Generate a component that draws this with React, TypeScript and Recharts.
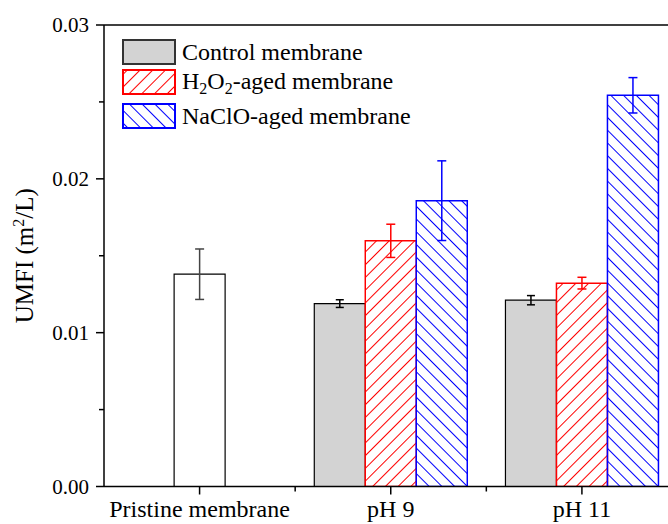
import { BarChart, Bar, XAxis, YAxis, ErrorBar, ReferenceLine, Legend, Label } from 'recharts'

const categories = ['Pristine membrane', 'pH 9', 'pH 11']
const pristine = [0.0138, null, null]
const pristineErr = [0.00164, null, null]
const control = [null, 0.01189, 0.01211]
const controlErr = [null, 0.00025, 0.0003]
const h2o2 = [null, 0.01597, 0.01322]
const h2o2Err = [null, 0.00108, 0.00038]
const naclo = [null, 0.01858, 0.02543]
const nacloErr = [null, 0.00259, 0.00115]

const yTicks = [0, 0.005, 0.01, 0.015, 0.02, 0.025, 0.03]
const yMajor = [0, 0.01, 0.02, 0.03]
const legendLabels = ['Control membrane', 'H2O2-aged membrane', 'NaClO-aged membrane']

const FONT = "'Liberation Serif', 'Times New Roman', serif"

const data = categories.map((name, i) => ({
  name,
  pristine: pristine[i],
  pristineErr: pristineErr[i],
  control: control[i],
  controlErr: controlErr[i],
  h2o2: h2o2[i],
  h2o2Err: h2o2Err[i],
  naclo: naclo[i],
  nacloErr: nacloErr[i],
}))

function YTick({ x, y, payload }: any) {
  const major = yMajor.some((v) => Math.abs(v - payload.value) < 1e-9)
  return (
    <g>
      <line x1={x - (major ? 8 : 5)} x2={x} y1={y} y2={y} stroke="#000" strokeWidth={1.5} />
      {major && (
        <text x={x - 15} y={y} dy="0.35em" textAnchor="end" fontSize={21} fill="#000" fontFamily={FONT}>
          {payload.value.toFixed(2)}
        </text>
      )}
    </g>
  )
}

// major tick at the category centre, minor tick at the band edge
function XTick({ x, y, payload, width, visibleTicksCount }: any) {
  const count = visibleTicksCount || categories.length
  const half = payload.offset || (Number(width) > 0 ? Number(width) / count / 2 : 0)
  const last = payload.index === count - 1
  return (
    <g>
      <line x1={x} x2={x} y1={y} y2={y + 8} stroke="#000" strokeWidth={1.5} />
      {!last && half > 0 && (
        <line x1={x + half} x2={x + half} y1={y} y2={y + 5} stroke="#000" strokeWidth={1.5} />
      )}
      <text x={x} y={y + 30} textAnchor="middle" fontSize={24} fill="#000" fontFamily={FONT}>
        {payload.value}
      </text>
    </g>
  )
}

function YTitle({ viewBox }: any) {
  const cx = viewBox.x + 9
  const cy = viewBox.y + viewBox.height / 2
  return (
    <text
      x={cx}
      y={cy}
      transform={`rotate(-90 ${cx} ${cy})`}
      textAnchor="middle"
      fontSize={25}
      fill="#000"
      fontFamily={FONT}
    >
      UMFI (m
      <tspan dy={-9} fontSize={16}>2</tspan>
      <tspan dy={9}>/L)</tspan>
    </text>
  )
}

function withSubs(label: string) {
  return label.split(/(\d)/).map((part, i) =>
    /\d/.test(part) ? (
      <span key={i} style={{ fontSize: 16, position: 'relative', top: 5 }}>{part}</span>
    ) : (
      <span key={i}>{part}</span>
    )
  )
}

function LegendBox() {
  const boxes = [
    { fill: '#d3d3d3', stroke: '#333' },
    { fill: 'url(#lgRed)', stroke: '#ff0000' },
    { fill: 'url(#lgBlue)', stroke: '#0000ff' },
  ]
  const gaps = [0, 4, 8]
  return (
    <div style={{ fontFamily: FONT, fontSize: 24, color: '#000' }}>
      {legendLabels.map((label, i) => (
        <div key={label} style={{ display: 'flex', alignItems: 'center', height: 26, lineHeight: '26px', marginTop: gaps[i] }}>
          <svg width={54} height={26} style={{ marginRight: 6, flex: 'none' }}>
            <defs>
              <pattern id="lgRed" patternUnits="userSpaceOnUse" width={9} height={9} patternTransform="rotate(45)">
                <line x1={4.5} y1={0} x2={4.5} y2={9} stroke="#ff0000" strokeWidth={1} />
              </pattern>
              <pattern id="lgBlue" patternUnits="userSpaceOnUse" width={9} height={9} patternTransform="rotate(-45)">
                <line x1={4.5} y1={0} x2={4.5} y2={9} stroke="#0000ff" strokeWidth={1} />
              </pattern>
            </defs>
            <rect x={1} y={1} width={52} height={24} fill="#fff" />
            <rect x={1} y={1} width={52} height={24} fill={boxes[i].fill} stroke={boxes[i].stroke} strokeWidth={2} />
          </svg>
          <span style={{ whiteSpace: 'nowrap' }}>{withSubs(label)}</span>
        </div>
      ))}
    </div>
  )
}

export default function App() {
  return (
    <div style={{ position: 'absolute', left: 0, top: 0, width: 668, height: 524, overflow: 'hidden', background: '#fff' }}>
      <BarChart
        width={700}
        height={524}
        data={data}
        margin={{ top: 25, right: 22.5, bottom: 7.5, left: 24 }}
        barCategoryGap="10%"
        barGap={0}
        style={{ fontFamily: FONT }}
      >
        <defs>
          <pattern id="hatchRed" patternUnits="userSpaceOnUse" width={9} height={9} patternTransform="rotate(45)">
            <line x1={4.5} y1={0} x2={4.5} y2={9} stroke="#ff0000" strokeWidth={1} />
          </pattern>
          <pattern id="hatchBlue" patternUnits="userSpaceOnUse" width={9} height={9} patternTransform="rotate(-45)">
            <line x1={4.5} y1={0} x2={4.5} y2={9} stroke="#0000ff" strokeWidth={1} />
          </pattern>
        </defs>
        <XAxis
          dataKey="name"
          height={30}
          axisLine={{ stroke: '#000', strokeWidth: 1.5 }}
          tickLine={false}
          tickSize={0}
          tickMargin={0}
          tick={<XTick />}
          interval={0}
        />
        <YAxis
          width={80}
          domain={[0, 0.03]}
          ticks={yTicks}
          interval={0}
          allowDataOverflow
          axisLine={{ stroke: '#000', strokeWidth: 1.5 }}
          tickLine={false}
          tickSize={0}
          tickMargin={0}
          tick={<YTick />}
        >
          <Label content={<YTitle />} />
        </YAxis>
        <ReferenceLine y={0.03} stroke="#000" strokeWidth={1.5} />
        <Legend
          layout="horizontal"
          verticalAlign="middle"
          align="center"
          wrapperStyle={{ top: 39, left: 122, width: 'auto' }}
          content={<LegendBox />}
        />
        <Bar dataKey="control" stackId="left" fill="#d3d3d3" stroke="#000" strokeWidth={1.2} isAnimationActive={false}>
          <ErrorBar dataKey="controlErr" width={4} stroke="#000" strokeWidth={1.5} />
        </Bar>
        <Bar dataKey="pristine" stackId="mid" fill="#fff" stroke="#000" strokeWidth={1.2} isAnimationActive={false}>
          <ErrorBar dataKey="pristineErr" width={4.5} stroke="#444" strokeWidth={1.5} />
        </Bar>
        <Bar dataKey="h2o2" stackId="mid" fill="url(#hatchRed)" stroke="#ff0000" strokeWidth={1.5} isAnimationActive={false}>
          <ErrorBar dataKey="h2o2Err" width={4.5} stroke="#ff0000" strokeWidth={1.5} />
        </Bar>
        <Bar dataKey="naclo" stackId="right" fill="url(#hatchBlue)" stroke="#0000ff" strokeWidth={1.5} isAnimationActive={false}>
          <ErrorBar dataKey="nacloErr" width={4.5} stroke="#0000ff" strokeWidth={1.5} />
        </Bar>
      </BarChart>
    </div>
  )
}
